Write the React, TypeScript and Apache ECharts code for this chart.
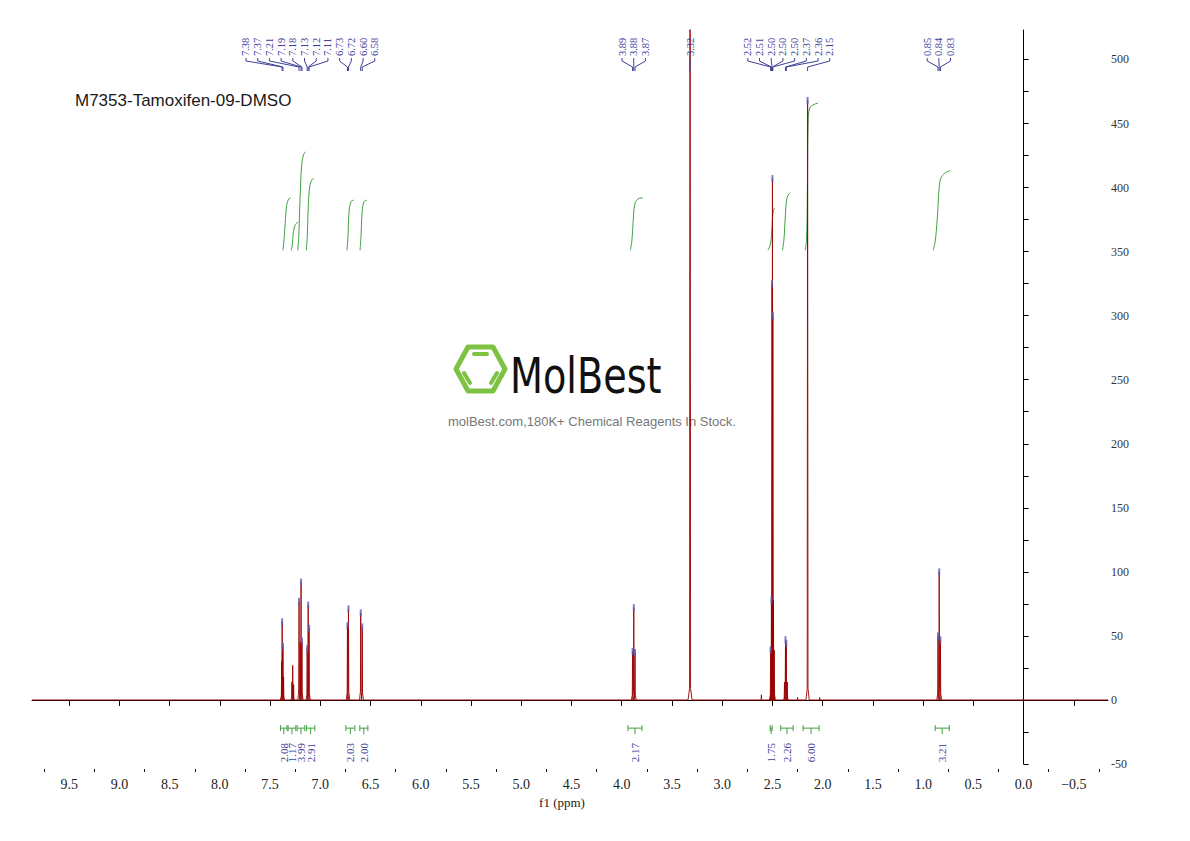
import React, { useEffect, useRef } from "react";
import * as echarts from "echarts";

// ---------- axis ranges & ticks ----------
const X_MIN = -0.84;
const X_MAX = 9.87;
const Y_MIN = -50;
const Y_MAX = 523;

const xMajorTicks = [9.5, 9.0, 8.5, 8.0, 7.5, 7.0, 6.5, 6.0, 5.5, 5.0, 4.5, 4.0, 3.5, 3.0, 2.5, 2.0, 1.5, 1.0, 0.5, 0.0, -0.5];
const xMinorTicks = [9.75, 9.25, 8.75, 8.25, 7.75, 7.25, 6.75, 6.25, 5.75, 5.25, 4.75, 4.25, 3.75, 3.25, 2.75, 2.25, 1.75, 1.25, 0.75, 0.25, -0.25, -0.75];
const yMajorTicks = [-50, 0, 50, 100, 150, 200, 250, 300, 350, 400, 450, 500];
const yAllTicks = [-50, -25, 0, 25, 50, 75, 100, 125, 150, 175, 200, 225, 250, 275, 300, 325, 350, 375, 400, 425, 450, 475, 500];

// ---------- spectrum peaks (ppm, intensity, half width in ppm) ----------
const peakPpm = [7.385, 7.38, 7.372, 7.366, 7.283, 7.275, 7.266, 7.212, 7.2, 7.192, 7.183, 7.131, 7.121, 7.112,
  6.73, 6.72, 6.598, 6.583, 3.892, 3.88, 3.868, 3.32, 2.61, 2.518, 2.51, 2.504, 2.5, 2.496, 2.49, 2.482,
  2.38, 2.37, 2.362, 2.352, 2.25, 2.15, 2.03, 0.852, 0.84, 0.828];
const peakHeight = [30, 61, 42, 18, 14, 27, 12, 77, 45, 92, 46, 40, 74, 56,
  58, 71, 68, 57, 38, 72, 37, 900, 4, 39, 78, 325, 407, 300, 78, 39,
  14, 47, 44, 14, 2, 468, 2, 50, 100, 47];
const peakWidth = [0.003, 0.003, 0.003, 0.003, 0.003, 0.003, 0.003, 0.003, 0.003, 0.003, 0.003, 0.003, 0.003, 0.003,
  0.003, 0.003, 0.003, 0.003, 0.003, 0.003, 0.003, 0.005, 0.003, 0.003, 0.003, 0.004, 0.004, 0.004, 0.003, 0.003,
  0.003, 0.003, 0.003, 0.003, 0.003, 0.004, 0.003, 0.003, 0.003, 0.003];

// ---------- peak picking labels ----------
const peakLabels = ["7.38", "7.37", "7.21", "7.19", "7.18", "7.13", "7.12", "7.11", "6.73", "6.72", "6.60", "6.58",
  "3.89", "3.88", "3.87", "3.32", "2.52", "2.51", "2.50", "2.50", "2.50", "2.37", "2.36", "2.15", "0.85", "0.84", "0.83"];
const peakLabelPpm = [7.38, 7.372, 7.212, 7.192, 7.183, 7.131, 7.121, 7.112, 6.73, 6.72, 6.598, 6.583,
  3.892, 3.88, 3.868, 3.32, 2.518, 2.51, 2.504, 2.5, 2.496, 2.37, 2.362, 2.15, 0.852, 0.84, 0.828];
const peakLabelHeight = [61, 42, 77, 92, 46, 40, 74, 56, 58, 71, 68, 57,
  38, 72, 37, 900, 39, 78, 325, 407, 300, 47, 44, 468, 50, 100, 47];
const peakLabelGroup = [0, 0, 0, 0, 0, 0, 0, 0, 0, 0, 0, 0, 1, 1, 1, 2, 3, 3, 3, 3, 3, 3, 3, 3, 4, 4, 4];

// ---------- integrals ----------
const integralValues = ["2.08", "1.17", "3.99", "2.91", "2.03", "2.00", "2.17", "1.75", "2.26", "6.00", "3.21"];
const integralFrom = [7.397, 7.321, 7.231, 7.138, 6.746, 6.607, 3.938, 2.523, 2.417, 2.195, 0.88];
const integralTo = [7.331, 7.244, 7.155, 7.055, 6.657, 6.527, 3.798, 2.503, 2.294, 2.036, 0.74];
const integralCurves = [
  [[7.375, 351], [7.365, 356], [7.35, 372], [7.335, 386], [7.315, 391], [7.295, 392]],
  [[7.29, 351], [7.28, 355], [7.27, 364], [7.255, 370], [7.24, 372], [7.22, 373]],
  [[7.225, 351], [7.215, 362], [7.2, 395], [7.185, 418], [7.165, 426], [7.145, 428]],
  [[7.14, 351], [7.13, 362], [7.12, 385], [7.105, 401], [7.085, 406], [7.065, 407]],
  [[6.735, 351], [6.725, 362], [6.715, 380], [6.7, 388], [6.68, 390], [6.667, 390]],
  [[6.605, 351], [6.595, 362], [6.585, 380], [6.57, 388], [6.55, 390], [6.537, 390]],
  [[3.915, 351], [3.9, 358], [3.885, 375], [3.87, 387], [3.84, 391], [3.79, 392]],
  [[2.545, 351], [2.52, 356], [2.505, 368], [2.495, 380], [2.48, 384]],
  [[2.4, 351], [2.385, 360], [2.37, 380], [2.355, 392], [2.335, 395], [2.32, 396]],
  [[2.175, 351], [2.16, 360], [2.152, 400], [2.145, 450], [2.13, 462], [2.045, 466]],
  [[0.9, 351], [0.88, 358], [0.86, 375], [0.84, 400], [0.82, 408], [0.77, 412], [0.73, 413]],
];

// ---------- layout constants (not data) ----------
const LABEL_GROUP_START = [7.74, 3.997, 3.32, 2.745, 0.96]; // ppm of first label slot
const LABEL_SLOT = 0.1165; // ppm per label slot
const BRACKET_Y = -22;
const LABEL_BLUE = "#40409a";
const INT_GREEN = "#3f9f3f";
const SERIF = '"Liberation Serif", "DejaVu Serif", serif';

function buildSpectrum() {
  const pts: number[][] = [[X_MAX, 0]];
  const order = peakPpm.map((_, i) => i).sort((a, b) => peakPpm[b] - peakPpm[a]);
  for (const i of order) {
    const p = peakPpm[i], h = peakHeight[i], w = peakWidth[i];
    const s = Math.min(h * 0.1, 9);
    pts.push([p + w * 4, 0], [p + w, s], [p, h], [p - w, s], [p - w * 4, 0]);
  }
  pts.push([X_MIN, 0]);
  return pts;
}

function labelSlotPpm() {
  const counters = [0, 0, 0, 0, 0];
  return peakLabelGroup.map((g) => {
    const v = LABEL_GROUP_START[g] - counters[g] * LABEL_SLOT;
    counters[g] += 1;
    return v;
  });
}

export default function App() {
  const ref = useRef<HTMLDivElement>(null);
  useEffect(() => {
    if (!ref.current) return;
    const chart = echarts.init(ref.current, null, { renderer: "svg" });
    const slots = labelSlotPpm();

    const integralSeries = integralCurves.map((c) => ({
      type: "line",
      data: c,
      showSymbol: false,
      smooth: 0.4,
      lineStyle: { color: INT_GREEN, width: 1 },
      z: 3,
      silent: true,
    }));

    const option: any = {
      animation: false,
      backgroundColor: "#ffffff",
      grid: { left: 32, right: 82, top: 30, bottom: 77 },
      xAxis: [
        {
          type: "value",
          min: X_MIN,
          max: X_MAX,
          inverse: true,
          position: "bottom",
          offset: 5,
          axisLine: { show: true, lineStyle: { color: "#000", width: 1 } },
          axisTick: { show: true, customValues: xMajorTicks, length: 6, lineStyle: { color: "#000" } },
          axisLabel: {
            customValues: xMajorTicks,
            formatter: (v: number) => (v < 0 ? "\u2212" + Math.abs(v).toFixed(1) : v.toFixed(1)),
            fontFamily: SERIF,
            fontSize: 14,
            color: "#222",
            margin: 8,
          },
          splitLine: { show: false },
          name: "f1 (ppm)",
          nameLocation: "middle",
          nameGap: 27,
          nameTextStyle: { fontFamily: SERIF, fontSize: 13, color: "#222", padding: [0, 16, 0, 0] },
        },
        {
          type: "value",
          min: X_MIN,
          max: X_MAX,
          inverse: true,
          position: "bottom",
          offset: 5,
          axisLine: { show: false },
          axisTick: { show: true, customValues: xMinorTicks, length: 3, lineStyle: { color: "#000" } },
          axisLabel: { show: false },
          splitLine: { show: false },
        },
      ],
      yAxis: {
        type: "value",
        min: Y_MIN,
        max: Y_MAX,
        position: "right",
        axisLine: { show: true, lineStyle: { color: "#000", width: 1 } },
        axisTick: { show: true, customValues: yAllTicks, length: 5, lineStyle: { color: "#000" } },
        axisLabel: { customValues: yMajorTicks, fontFamily: SERIF, fontSize: 12, color: "#333", margin: 3 },
        splitLine: { show: false },
      },
      graphic: [
        {
          type: "text", x: 75, y: 100, z: 0,
          style: { text: "M7353-Tamoxifen-09-DMSO", font: '17px "Liberation Sans", Arial, sans-serif', fill: "#1a1a1a", verticalAlign: "middle" },
        },
        {
          type: "group", x: 455, y: 344, z: 0,
          children: [
            { type: "polygon", shape: { points: [[1, 25], [13, 3], [38, 3], [50, 25], [38, 47], [13, 47]] }, style: { stroke: "#7dc243", lineWidth: 5, fill: "none", lineJoin: "round" } },
            { type: "line", shape: { x1: 19, y1: 10, x2: 32, y2: 10 }, style: { stroke: "#7dc243", lineWidth: 4, lineCap: "round" } },
            { type: "line", shape: { x1: 9, y1: 29, x2: 15, y2: 39 }, style: { stroke: "#7dc243", lineWidth: 4, lineCap: "round" } },
            { type: "line", shape: { x1: 42, y1: 29, x2: 36, y2: 39 }, style: { stroke: "#7dc243", lineWidth: 4, lineCap: "round" } },
          ],
        },
        {
          type: "text", x: 510, y: 376, scaleX: 0.78, z: 0,
          style: { text: "MolBest", font: '49px "DejaVu Sans", sans-serif', fill: "#111", verticalAlign: "middle" },
        },
        {
          type: "text", x: 448, y: 421, z: 0,
          style: { text: "molBest.com,180K+ Chemical Reagents In Stock.", font: '13px "Liberation Sans", Arial, sans-serif', fill: "#777", verticalAlign: "middle" },
        },
      ],
      series: [
        ...integralSeries,
        {
          type: "line",
          data: buildSpectrum(),
          showSymbol: false,
          lineStyle: { color: "#990000", width: 0.9 },
          z: 4,
          silent: true,
        },
        {
          type: "scatter",
          data: peakLabelPpm.map((p, i) => [p, peakLabelHeight[i]]).filter((d) => d[1] < Y_MAX),
          symbol: "rect",
          symbolSize: [2, 7],
          itemStyle: { color: "#5d5db5" },
          z: 5,
          silent: true,
        },
        {
          type: "custom",
          data: peakLabelPpm.map((p, i) => [p, 0, slots[i]]),
          encode: { x: 0, y: 1 },
          z: 6,
          silent: true,
          renderItem: (params: any, api: any) => {
            const i = params.dataIndex;
            const px = api.coord([api.value(0), 0])[0];
            const lx = api.coord([api.value(2), 0])[0];
            const top = params.coordSys.y;
            return {
              type: "group",
              children: [
                {
                  type: "text", x: lx, y: top + 26, rotation: Math.PI / 2,
                  style: { text: peakLabels[i], fontSize: 10.5, fontFamily: SERIF, fill: LABEL_BLUE, align: "left", verticalAlign: "middle" },
                },
                {
                  type: "polyline",
                  shape: { points: [[lx, top + 28], [lx, top + 31], [px, top + 37], [px, top + 41]] },
                  style: { stroke: LABEL_BLUE, lineWidth: 1, fill: "none" },
                },
              ],
            };
          },
        },
        {
          type: "custom",
          data: integralFrom.map((f, i) => [f, BRACKET_Y, integralTo[i]]),
          encode: { x: 0, y: 1 },
          z: 6,
          silent: true,
          renderItem: (params: any, api: any) => {
            const i = params.dataIndex;
            const p1 = api.coord([api.value(0), api.value(1)]);
            const p2 = api.coord([api.value(2), api.value(1)]);
            const y = p1[1];
            const xc = (p1[0] + p2[0]) / 2;
            return {
              type: "group",
              children: [
                { type: "line", shape: { x1: p1[0], y1: y, x2: p2[0], y2: y }, style: { stroke: INT_GREEN, lineWidth: 1 } },
                { type: "line", shape: { x1: p1[0], y1: y - 3, x2: p1[0], y2: y + 3 }, style: { stroke: INT_GREEN, lineWidth: 1 } },
                { type: "line", shape: { x1: p2[0], y1: y - 3, x2: p2[0], y2: y + 3 }, style: { stroke: INT_GREEN, lineWidth: 1 } },
                { type: "line", shape: { x1: xc, y1: y, x2: xc, y2: y + 6 }, style: { stroke: INT_GREEN, lineWidth: 1 } },
                {
                  type: "text", x: xc, y: y + 34, rotation: Math.PI / 2,
                  style: { text: integralValues[i], fontSize: 11, fontFamily: SERIF, fill: LABEL_BLUE, align: "left", verticalAlign: "middle" },
                },
              ],
            };
          },
        },
      ],
    };
    chart.setOption(option);
    return () => chart.dispose();
  }, []);

  return <div ref={ref} style={{ position: "fixed", left: 0, top: 0, width: 1190, height: 841, background: "#fff" }} />;
}
